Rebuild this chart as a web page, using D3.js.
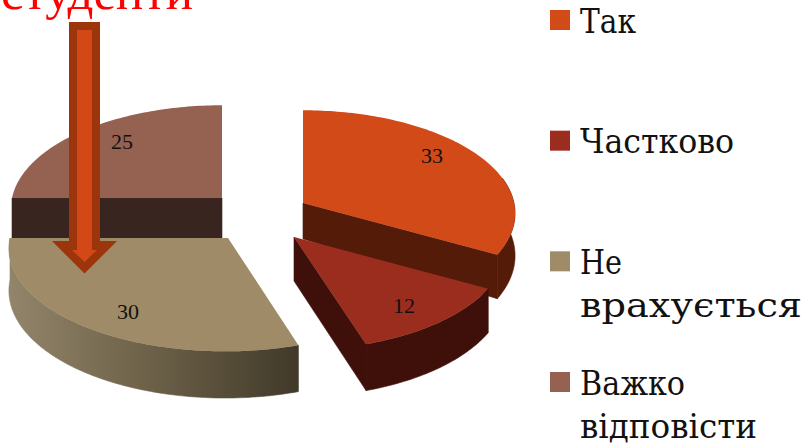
<!DOCTYPE html>
<html><head><meta charset="utf-8">
<style>html,body{margin:0;padding:0;background:#fff;overflow:hidden}svg{display:block}</style>
<script src="https://cdn.jsdelivr.net/npm/d3@7/dist/d3.min.js"></script>
</head><body><svg id="c" width="807" height="445"></svg>
<script>
const categories = ["Так","Частково","Не врахується","Важко відповісти"];
const values = [33,12,30,25];
const legendLines = [["Так"],["Частково"],["Не","врахується"],["Важко","відповісти"]];
const titleText = "студенти";
const topColors = ["#d14a18","#9b2d1f","#9f8b67","#956251"];
const wallColors = ["#541b08","#3f100a","url(#tanWall)","#39251f"];

const W=807,H=445;
const svg=d3.select("#c").attr("viewBox",[0,0,W,H]);
const defs=svg.append("defs");
const g=defs.append("linearGradient").attr("id","tanWall").attr("gradientUnits","userSpaceOnUse")
  .attr("x1",12).attr("x2",297).attr("y1",0).attr("y2",0);
[[0,"#91846a"],[.45,"#6f634a"],[1,"#413a2a"]].forEach(s=>g.append("stop").attr("offset",s[0]).attr("stop-color",s[1]));

const color=d3.scaleOrdinal(categories,topColors);
const wall=d3.scaleOrdinal(categories,wallColors);
const pie=d3.pie().value(d=>d.v).sort(null);
const arcs=pie(categories.map((c,i)=>({c,v:values[i]})));

// per-slice placement of the exploded pie
const centerX=[303,294,225,222], centerY=[203,237,238,198], radiusX=[211,211,215,210];
const apexShift=[0,0,3,0];
const apexDepth=[36,44,42,40], rimDepth=[42,42,42,40];
const radiusY=102, persp=.1;
const cutFace=["end","end",null,"start"];
const labelPos=[[432,163],[404,313],[128,319],[122,149]];

const project=(i,th,r,z)=>{
  const p=1/(1+persp*Math.cos(th)*r);
  return [centerX[i]+(r>0?radiusX[i]*r*Math.sin(th)*p:apexShift[i]),
          centerY[i]-radiusY*r*Math.cos(th)*p+z*(r>0?p:1)];
};
const line=d3.line();
const sweep=(a,b)=>{const n=Math.max(2,Math.ceil((b-a)/.02));return d3.range(n+1).map(k=>a+(b-a)*k/n);};

const order=[3,0,1,2];
order.forEach(i=>{
  const a=arcs[i], cat=categories[i], layer=svg.append("g");
  const from=i===0?Math.PI*.42:a.startAngle, to=a.endAngle;
  if(i!==3){
    const th=sweep(from,to);
    const pts=[...th.map(t=>project(i,t,1,0)),...th.slice().reverse().map(t=>project(i,t,1,rimDepth[i]))];
    layer.append("path").attr("d",line(pts)+"Z").attr("fill",wall(cat)).attr("stroke",wall(cat)).attr("stroke-width",.6);
  }
  if(cutFace[i]){
    const t=cutFace[i]==="end"?a.endAngle:a.startAngle;
    const pts=[project(i,t,0,0),project(i,t,1,0),project(i,t,1,rimDepth[i]),project(i,t,0,apexDepth[i])];
    layer.append("path").attr("d",line(pts)+"Z").attr("fill",wall(cat)).attr("stroke",wall(cat)).attr("stroke-width",.6);
  }
  const pts=[project(i,0,0,0),...sweep(a.startAngle,a.endAngle).map(t=>project(i,t,1,0))];
  layer.append("path").attr("d",line(pts)+"Z").attr("fill",color(cat));
});

svg.selectAll("text.lab").data(values).join("text").attr("class","lab")
  .attr("x",(d,i)=>labelPos[i][0]).attr("y",(d,i)=>labelPos[i][1])
  .attr("text-anchor","middle").attr("font-family","Liberation Serif").attr("font-size",22)
  .attr("fill","#111").text(d=>d);

// annotation arrow
svg.append("path").attr("d","M69,22H100V241H117L84.5,273.5L52,241H69Z").attr("fill","#9c350c");
svg.append("path").attr("d","M77,30H92V250H97L84.5,262L72,250H77Z").attr("fill","#d34817");

svg.append("text").attr("x",97).attr("y",9).attr("text-anchor","middle")
  .attr("font-family","Liberation Serif").attr("font-size",51).attr("fill","#ff0000").text(titleText);

// legend
const legendY=d3.scalePoint().domain(categories).range([10,372]);
const lineBase=[[33],[153],[274,317],[395,438]];
const lineWidth=[[56],[154],[42,222],[105,177]];
const lg=svg.selectAll("g.lg").data(categories).join("g").attr("class","lg");
lg.append("rect").attr("x",550).attr("y",d=>legendY(d)).attr("width",20).attr("height",20).attr("fill",d=>color(d));
lg.each(function(d,i){
  d3.select(this).selectAll("text").data(legendLines[i]).join("text")
    .attr("x",580).attr("y",(t,j)=>lineBase[i][j])
    .attr("textLength",(t,j)=>lineWidth[i][j]).attr("lengthAdjust","spacingAndGlyphs")
    .attr("font-family","DejaVu Serif Condensed, DejaVu Serif").attr("font-stretch","condensed")
    .attr("font-size",34).attr("fill","#111").text(t=>t);
});
</script></body></html>
